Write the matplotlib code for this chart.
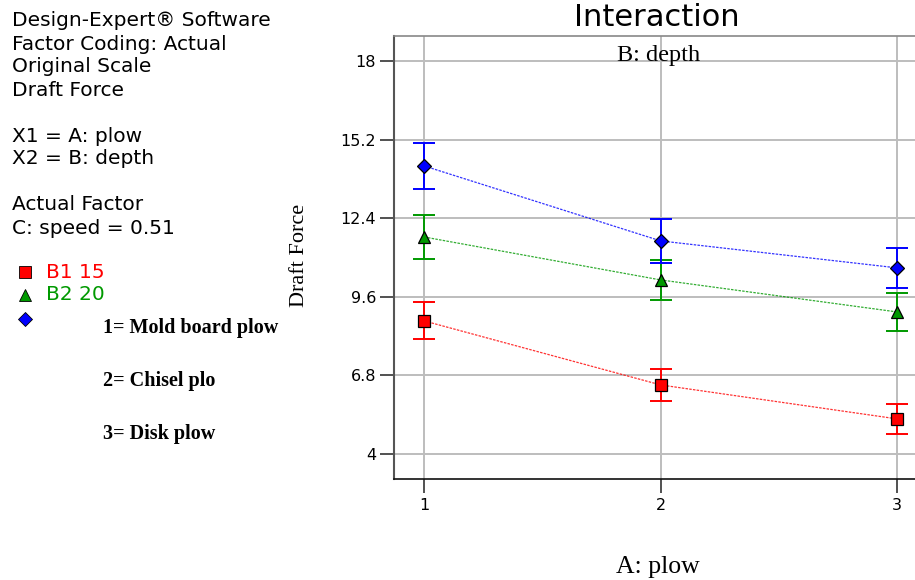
import matplotlib
matplotlib.use("Agg")
import matplotlib.pyplot as plt
from matplotlib.lines import Line2D

plow = [1, 2, 3]
series_names = ["B1 15", "B2 20", ""]
red_vals = [8.74, 6.46, 5.25]
red_err = [0.66, 0.57, 0.52]
green_vals = [11.73, 10.20, 9.06]
green_err = [0.77, 0.71, 0.68]
blue_vals = [14.26, 11.59, 10.63]
blue_err = [0.83, 0.77, 0.72]
yticks = [4, 6.8, 9.6, 12.4, 15.2, 18]
ytick_labels = ["4", "6.8", "9.6", "12.4", "15.2", "18"]
info_lines = ["Design-Expert® Software", "Factor Coding: Actual", "Original Scale",
              "Draft Force", "", "X1 = A: plow", "X2 = B: depth", "",
              "Actual Factor", "C: speed = 0.51"]
plow_notes = ["1= Mold board plow", "2= Chisel plo", "3= Disk plow"]

W, H = 915, 580
fig = plt.figure(figsize=(W/100, H/100), dpi=100)
ax = fig.add_axes([394/W, 1-479/H, (928-394)/W, (479-36)/H])

sans = ["DejaVu Sans"]
serif = "Liberation Serif"

ax.set_xlim(0.872, 3.13)
ax.set_ylim(3.11, 18.89)
ax.set_xticks(plow)
ax.set_yticks(yticks)
ax.set_yticklabels(ytick_labels)
ax.grid(True, color="#bdbdbd", lw=1.4)
ax.set_axisbelow(True)
for lab in ax.get_xticklabels() + ax.get_yticklabels():
    lab.set_fontfamily(sans)
    lab.set_fontsize(11.5)
ax.tick_params(axis="both", direction="out", length=10, width=1.2, color="#333333")
ax.tick_params(axis="x", pad=4)
ax.tick_params(axis="y", pad=3)
ax.spines["left"].set_color("#555555")
ax.spines["left"].set_linewidth(1.5)
ax.spines["bottom"].set_color("#111111")
ax.spines["bottom"].set_linewidth(1.2)
ax.spines["top"].set_color("#888888")
ax.spines["top"].set_linewidth(1.2)
ax.spines["right"].set_visible(False)

series = [
    (red_vals, red_err, "red", "s", 8),
    (green_vals, green_err, "#009900", "^", 9),
    (blue_vals, blue_err, "blue", "D", 7),
]
for vals, err, col, mk, ms in series:
    ax.errorbar(plow, vals, yerr=err, fmt="none", ecolor=col, elinewidth=1.4,
                capsize=8, capthick=1.4, zorder=3)
    ax.plot(plow, vals, color=col, lw=0.9, ls=(0, (2, 1)), alpha=0.8, zorder=4)
    ax.plot(plow, vals, ls="none", marker=mk, ms=ms, mfc=col, mec="black",
            mew=0.9, zorder=5)

fig.text(657/W, 1-18/H, "Interaction", ha="center", va="center",
         fontfamily=sans, fontsize=22)
fig.text(659/W, 1-56/H, "B: depth", ha="center", va="center",
         fontfamily=serif, fontsize=17.5)
fig.text(300/W, 1-255/H, "Draft Force", rotation=90, ha="center", va="center",
         fontfamily=serif, fontsize=16)
fig.text(658/W, 1-567/H, "A: plow", ha="center", va="center",
         fontfamily=serif, fontsize=18.5)

y0 = 21
for i, line in enumerate(info_lines):
    if line:
        fig.text(12/W, 1-(y0 + 23*i)/H, line, ha="left", va="center",
                 fontfamily=sans, fontsize=14.5)

leg_cols = ["red", "#009900", "blue"]
leg_mk = ["s", "^", "D"]
leg_ms = [8, 9, 7]
leg_y = [272, 295, 319]
for name, col, mk, ms, yy in zip(series_names, leg_cols, leg_mk, leg_ms, leg_y):
    fig.lines.append(Line2D([25/W], [1-yy/H], transform=fig.transFigure,
                     ls="none", marker=mk, ms=ms, mfc=col, mec="black", mew=0.6))
    if name:
        fig.text(46/W, 1-yy/H, name, ha="left", va="center", color=col,
                 fontfamily=sans, fontsize=14.5)

for note, yy in zip(plow_notes, [328, 381, 434]):
    fig.text(103/W, 1-yy/H, note, ha="left", va="center", fontfamily=serif,
             fontweight="bold", fontsize=14.5)

fig.savefig("out.png", dpi=100)
